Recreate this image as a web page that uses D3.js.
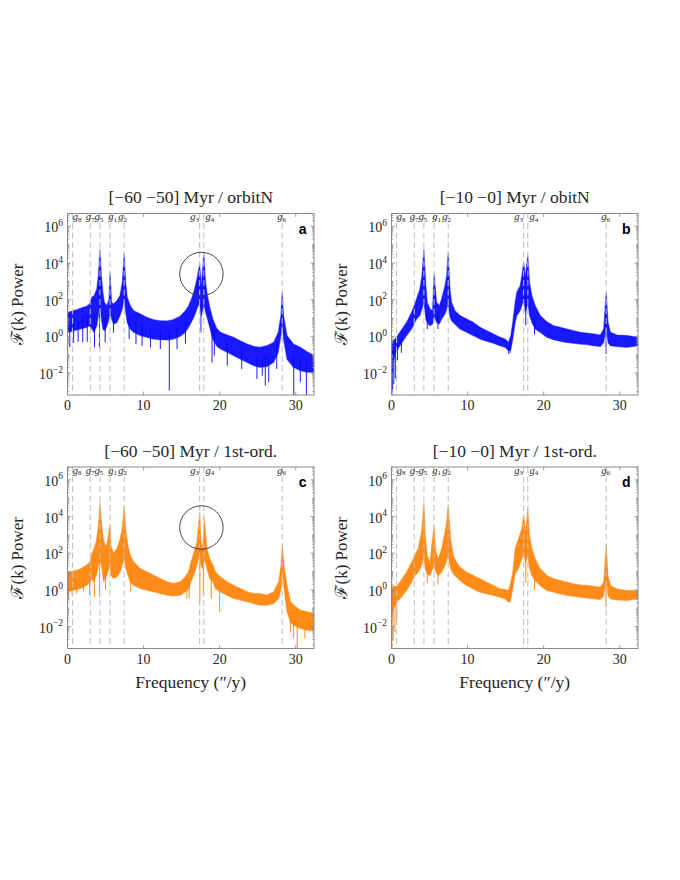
<!DOCTYPE html>
<html>
<head>
<meta charset="utf-8">
<script src="https://cdn.jsdelivr.net/npm/d3@7"></script>
<style>
  body { margin: 0; background: #fff; }
  svg { display: block; }
</style>
</head>
<body>
<svg id="chart" width="680" height="880"></svg>
<script>
// secular frequencies marked in every panel ("/y)
var gNames = ["8", "7", "5", "1", "2", "3", "4", "6"];
var gFreqs = [0.67, 2.99, 4.26, 5.59, 7.45, 17.37, 17.92, 28.22];

var xTicks = [0, 10, 20, 30];
var yTickExps = [-2, 0, 2, 4, 6];

var titles = ["[\u221260 \u221250] Myr / orbitN", "[\u221210 \u22120] Myr / obitN",
              "[\u221260 \u221250] Myr / 1st-ord.", "[\u221210 \u22120] Myr / 1st-ord."];
var letters = ["a", "b", "c", "d"];

// spectra: band top / band bottom as log10(power),
// plus the deep single-bin dips as [freq, log10(power)]

// panel a
var freqA = [0, 0.4, 0.8, 1.2, 1.7, 2.1, 2.5, 2.9, 3.2, 3.5, 3.85, 4.05, 4.26, 4.45, 4.65, 4.85,
  5.2, 5.45, 5.59, 5.8, 6.05, 6.5, 6.9, 7.2, 7.45, 7.65, 7.85, 8.25, 8.7, 9.6, 10.4, 11.3,
  12.2, 13.1, 13.9, 14.8, 15.5, 15.9, 16.25, 16.6, 16.85, 17.1, 17.37, 17.6, 17.92, 18.15, 18.4, 18.75,
  19.1, 19.6, 20.1, 21.0, 21.8, 22.7, 23.6, 24.5, 25.3, 26.2, 27.1, 27.7, 28.05, 28.22, 28.4, 28.85,
  29.7, 30.6, 31.5, 32.4];
var upperA = [1.31, 1.35, 1.4, 1.45, 1.53, 1.58, 1.64, 1.76, 2.13, 2.22, 2.58, 3.31, 4.73, 3.31, 2.4, 1.85,
  1.67, 2.04, 3.49, 1.85, 1.76, 1.95, 2.22, 2.95, 4.53, 2.95, 2.13, 1.67, 1.4, 1.22, 1.04, 0.91,
  0.85, 0.84, 0.91, 1.09, 1.4, 1.64, 2.0, 2.4, 2.85, 3.31, 3.95, 2.76, 4.51, 2.95, 2.22, 1.49,
  0.95, 0.44, 0.22, 0.07, -0.05, -0.24, -0.42, -0.55, -0.6, -0.51, -0.33, 0.22, 1.13, 2.4, 1.13, 0.04,
  -0.42, -0.6, -0.84, -1.05];
var lowerA = [0.22, 0.25, 0.3, 0.35, 0.4, 0.44, 0.49, 0.58, 0.4, 0.22, 0.58, 1.13, 1.85, 0.95, 0.4, 0.31,
  0.58, 0.95, 1.31, 0.95, 0.67, 0.76, 1.13, 1.49, 2.04, 1.31, 0.76, 0.4, 0.22, 0.04, -0.05, -0.15,
  -0.18, -0.2, -0.15, 0.0, 0.22, 0.49, 0.76, 1.04, 1.31, 1.58, 1.85, 1.13, 1.76, 1.31, 0.95, 0.4,
  -0.15, -0.51, -0.69, -0.87, -1.05, -1.24, -1.42, -1.6, -1.69, -1.64, -1.42, -0.87, 0.04, 0.76, -0.15, -1.24,
  -1.69, -1.87, -1.96, -1.96];
var dipsA = [[0.3, -0.6], [0.8, -0.35], [1.4, -0.3], [2.0, -0.33], [2.6, -0.3], [3.55, -0.6], [4.2, -0.6],
  [4.95, -0.33], [6.05, 0.2], [8.1, -0.15], [9.0, -0.42], [9.8, -0.51], [10.9, -0.6], [12.2, -0.69],
  [13.38, -2.96], [14.4, -0.69], [15.5, -0.4], [17.54, 0.22], [19.0, -1.42], [19.3, -1.05], [21.0, -1.6],
  [22.9, -1.78], [24.9, -2.33], [25.6, -2.15], [26.0, -2.69], [26.45, -2.5], [27.5, -1.78], [29.74, -3.3],
  [30.6, -2.5], [31.4, -3.3]];

// panel b
var freqB = [0, 0.22, 0.44, 0.66, 1.1, 1.98, 2.64, 3.07, 3.29, 3.73, 4.0, 4.26, 4.52, 4.7, 5.05, 5.4,
  5.59, 5.93, 6.28, 6.59, 7.03, 7.25, 7.45, 7.69, 7.9, 8.34, 9.0, 9.88, 10.76, 11.64, 12.52, 13.4,
  14.27, 14.93, 15.37, 15.68, 15.94, 16.25, 16.47, 16.91, 17.13, 17.37, 17.61, 17.92, 18.14, 18.45, 18.89, 19.54,
  20.42, 21.3, 22.18, 23.06, 23.94, 24.81, 25.69, 26.57, 27.45, 27.89, 28.22, 28.46, 28.77, 29.64, 30.96, 32.4];
var upperB = [-0.51, -0.24, -0.15, -0.05, 0.22, 0.76, 1.31, 1.76, 2.04, 2.58, 3.31, 4.73, 2.76, 1.85, 1.49, 1.4,
  3.4, 1.85, 1.67, 2.04, 2.76, 3.31, 4.58, 2.58, 1.85, 1.4, 1.13, 0.95, 0.76, 0.49, 0.31, 0.13,
  -0.05, -0.15, -0.33, 0.04, 0.76, 1.85, 2.4, 2.76, 3.31, 4.04, 3.31, 4.4, 2.95, 2.22, 1.67, 1.13,
  0.8, 0.58, 0.49, 0.4, 0.31, 0.22, 0.18, 0.13, 0.07, 0.4, 2.4, 0.76, 0.22, 0.07, 0.04, -0.05];
var lowerB = [-1.0, -1.42, -1.05, -0.78, -0.51, 0.04, 0.4, 0.76, 0.95, 1.13, 1.49, 1.85, 0.95, 0.76, 0.58, 0.67,
  1.13, 0.76, 0.67, 0.95, 1.22, 1.49, 1.85, 1.04, 0.85, 0.67, 0.4, 0.22, 0.04, -0.15, -0.27, -0.38,
  -0.51, -0.6, -0.78, -0.73, -0.15, 0.76, 1.13, 1.4, 1.67, 2.04, 1.31, 1.85, 1.13, 0.76, 0.4, 0.22,
  -0.05, -0.18, -0.27, -0.33, -0.38, -0.42, -0.45, -0.51, -0.55, -0.33, 0.58, -0.33, -0.51, -0.56, -0.6, -0.51];
var dipsB = [[0.05, -3.3], [0.15, -2.9], [0.3, -2.6], [0.5, -2.3], [0.8, -1.3], [1.3, -0.9], [4.7, 0.4],
  [6.1, 0.4], [15.4, -0.95], [15.6, -0.9], [17.65, 0.6], [18.8, 0.1], [28.2, -0.96]];

// panel c
var freqC = [0, 0.79, 1.67, 2.54, 2.98, 3.2, 3.42, 3.77, 4.08, 4.26, 4.52, 4.74, 4.96, 5.18, 5.59, 5.7,
  6.05, 6.49, 6.93, 7.19, 7.45, 7.68, 7.94, 8.25, 8.68, 9.56, 10.44, 11.32, 12.19, 13.07, 13.95, 14.82,
  15.48, 15.92, 16.23, 16.58, 17.02, 17.37, 17.54, 17.76, 18.0, 18.33, 18.68, 19.12, 19.43, 20.09, 20.96, 21.84,
  22.72, 23.6, 24.47, 25.35, 26.23, 27.11, 27.76, 28.07, 28.22, 28.51, 28.86, 29.3, 29.74, 30.61, 31.49, 32.4];
var upperC = [0.98, 1.02, 1.13, 1.35, 1.53, 1.98, 2.16, 2.62, 3.53, 4.76, 3.44, 2.71, 2.44, 2.44, 3.53, 2.44,
  1.98, 2.25, 2.8, 3.35, 4.53, 3.16, 2.44, 1.89, 1.53, 1.16, 0.98, 0.8, 0.62, 0.44, 0.35, 0.44,
  0.71, 0.98, 1.53, 1.98, 2.62, 4.22, 2.62, 2.25, 3.89, 2.25, 1.71, 1.35, 0.98, 0.71, 0.44, 0.25,
  0.07, -0.11, -0.2, -0.2, -0.29, -0.11, 0.44, 1.35, 2.44, 1.16, 0.25, -0.65, -0.84, -1.11, -1.2, -1.29];
var lowerC = [-0.11, -0.02, 0.07, 0.25, 0.44, 0.62, 0.44, 0.8, 1.35, 1.71, 1.16, 0.44, 0.62, 0.8, 1.35, 0.8,
  0.62, 0.71, 0.98, 1.35, 1.71, 1.16, 0.8, 0.44, 0.25, 0.07, -0.02, -0.11, -0.2, -0.29, -0.33, -0.29,
  -0.11, 0.07, 0.44, 0.8, 1.35, 2.07, 1.35, 1.16, 1.71, 1.16, 0.62, 0.44, 0.07, -0.11, -0.29, -0.47,
  -0.56, -0.65, -0.75, -0.84, -0.84, -0.75, -0.47, 0.07, 0.98, -0.11, -1.2, -1.75, -1.93, -2.11, -2.2, -2.2];
var dipsC = [[0.15, -0.6], [0.6, -0.3], [1.2, -0.2], [2.1, -0.1], [2.9, -0.3], [3.55, -0.38], [4.2, -0.38],
  [5.0, 0.0], [8.3, -0.1], [15.7, -0.47], [16.0, -0.47], [17.4, -0.7], [17.85, -0.3], [18.9, -0.47],
  [20.0, -1.2], [29.3, -2.3], [29.7, -2.65], [30.2, -3.3], [31.2, -2.65], [31.9, -2.3]];

// panel d
var freqD = [0, 0.22, 0.66, 1.1, 1.98, 2.64, 3.07, 3.51, 3.95, 4.13, 4.26, 4.44, 4.7, 5.05, 5.59, 5.84,
  6.15, 6.59, 7.03, 7.25, 7.45, 7.77, 8.12, 8.56, 9.0, 9.88, 10.76, 11.64, 12.52, 13.4, 14.27, 14.93,
  15.37, 15.68, 15.94, 16.25, 16.69, 17.13, 17.37, 17.61, 17.92, 18.14, 18.45, 18.89, 19.54, 20.42, 21.3, 22.18,
  23.06, 23.94, 24.81, 25.69, 26.57, 27.45, 27.89, 28.22, 28.46, 28.77, 29.64, 30.96, 32.4];
var upperD = [0.05, 0.24, 0.15, 0.42, 0.96, 1.51, 1.87, 2.24, 3.15, 4.05, 4.75, 2.96, 1.87, 1.51, 3.51, 2.05,
  1.69, 2.24, 3.15, 3.69, 4.64, 2.78, 1.87, 1.51, 1.24, 0.96, 0.78, 0.6, 0.42, 0.24, 0.05, 0.02,
  -0.04, 0.42, 0.96, 2.24, 2.78, 3.33, 4.05, 3.15, 4.42, 2.96, 2.24, 1.69, 1.15, 0.78, 0.6, 0.51,
  0.42, 0.33, 0.27, 0.24, 0.2, 0.15, 0.42, 2.45, 0.78, 0.24, 0.05, -0.04, -0.04];
var lowerD = [-1.22, -1.04, -0.67, -0.49, -0.04, 0.42, 0.78, 0.96, 1.33, 1.6, 1.87, 1.15, 0.87, 0.78, 1.33, 0.96,
  0.78, 0.96, 1.33, 1.6, 1.87, 1.15, 0.87, 0.69, 0.51, 0.24, 0.05, -0.13, -0.22, -0.31, -0.4, -0.49,
  -0.67, -0.49, 0.05, 0.87, 1.15, 1.69, 2.05, 1.51, 1.87, 1.15, 0.78, 0.51, 0.24, -0.04, -0.13, -0.22,
  -0.31, -0.35, -0.4, -0.45, -0.49, -0.53, -0.31, 0.6, -0.31, -0.49, -0.55, -0.58, -0.49];
var dipsD = [[0.05, -3.3], [0.2, -2.8], [0.45, -2.3], [0.7, -1.6], [4.7, 0.36], [6.1, 0.3], [15.4, -0.67],
  [15.6, -0.7], [17.65, 0.4], [18.8, 0.0], [28.2, -0.95]];

// circled g3/g4 pair in the left column
var circleFreq = 17.6, circleExp = 3.4;

var xDomain = [0, 32.4];
var yDomain = [Math.pow(10, -3.2), Math.pow(10, 6.7)];

var blue = "#0000ff", orange = "#ff8000";

var panels = [
  {freq: freqA, upper: upperA, lower: lowerA, dips: dipsA, color: blue, col: 0, row: 0, circle: true},
  {freq: freqB, upper: upperB, lower: lowerB, dips: dipsB, color: blue, col: 1, row: 0, circle: false},
  {freq: freqC, upper: upperC, lower: lowerC, dips: dipsC, color: orange, col: 0, row: 1, circle: true},
  {freq: freqD, upper: upperD, lower: lowerD, dips: dipsD, color: orange, col: 1, row: 1, circle: false}
];

// layout
var colX = [67.5, 391.5], rowY = [213.5, 467], width = 246.5, height = 181.5;
var serif = "'Liberation Serif', 'Times New Roman', serif";
var axisColor = "#8a8a8a", textColor = "#262626";

var svg = d3.select("#chart");
svg.append("rect").attr("width", 680).attr("height", 880).attr("fill", "#fff");

var x = d3.scaleLinear().domain(xDomain).range([0, width]);
var y = d3.scaleLog().domain(yDomain).range([height, 0]);

// label nudges so neighbouring g labels don't collide
var gLabelShift = {"8": 4.5, "7": 0, "5": -1, "1": 2.5, "2": -1.5, "3": -5, "4": 6, "6": -0.5};

panels.forEach(function (p, k) {
  var g = svg.append("g")
    .attr("transform", "translate(" + colX[p.col] + "," + rowY[p.row] + ")");

  var clipId = "clip" + k;
  g.append("clipPath").attr("id", clipId)
    .append("rect").attr("width", width).attr("height", height);

  var plot = g.append("g").attr("clip-path", "url(#" + clipId + ")");
  var idx = d3.range(p.freq.length);

  // the spectrum band
  var band = d3.area()
    .x(function (i) { return x(p.freq[i]); })
    .y0(function (i) { return y(Math.pow(10, p.lower[i])); })
    .y1(function (i) { return y(Math.pow(10, p.upper[i])); });

  plot.append("path")
    .datum(idx)
    .attr("d", band)
    .attr("fill", p.color)
    .attr("fill-opacity", 0.9)
    .attr("stroke", p.color)
    .attr("stroke-width", 1.2)
    .attr("stroke-opacity", 0.45)
    .attr("stroke-linejoin", "round");

  // deep dips
  var near = d3.bisector(function (d) { return d; }).center;
  plot.selectAll("line.dip")
    .data(p.dips)
    .join("line")
    .attr("class", "dip")
    .attr("x1", function (d) { return x(d[0]); })
    .attr("x2", function (d) { return x(d[0]); })
    .attr("y1", function (d) {
      var i = near(p.freq, d[0]);
      return y(Math.pow(10, (p.upper[i] + p.lower[i]) / 2));
    })
    .attr("y2", function (d) { return y(Math.pow(10, d[1])); })
    .attr("stroke", p.color)
    .attr("stroke-width", 0.9);

  // secular frequency markers
  plot.selectAll("line.gline")
    .data(gFreqs)
    .join("line")
    .attr("class", "gline")
    .attr("x1", function (d) { return x(d); })
    .attr("x2", function (d) { return x(d); })
    .attr("y1", 0)
    .attr("y2", height)
    .attr("stroke", "#bdbdbd")
    .attr("stroke-width", 1)
    .attr("stroke-dasharray", "6,3.5");

  var gl = g.selectAll("text.glab")
    .data(gNames)
    .join("text")
    .attr("class", "glab")
    .attr("x", function (d, i) { return x(gFreqs[i]) + gLabelShift[d]; })
    .attr("y", 6.5)
    .attr("text-anchor", "middle")
    .attr("font-family", serif)
    .attr("fill", textColor);
  gl.append("tspan").attr("font-size", 10.5).attr("font-style", "italic").text("g");
  gl.append("tspan").attr("font-size", 7).attr("dy", 1.8).text(function (d) { return d; });

  if (p.circle) {
    g.append("circle")
      .attr("cx", x(circleFreq))
      .attr("cy", y(Math.pow(10, circleExp)))
      .attr("r", 21.7)
      .attr("fill", "none")
      .attr("stroke", "#333")
      .attr("stroke-width", 0.9);
  }

  // box and ticks (inside, MATLAB style)
  g.append("rect")
    .attr("width", width).attr("height", height)
    .attr("fill", "none").attr("stroke", axisColor).attr("stroke-width", 1);

  var ticks = g.append("g").attr("stroke", axisColor).attr("stroke-width", 0.8);
  xTicks.forEach(function (t) {
    ticks.append("line").attr("x1", x(t)).attr("x2", x(t)).attr("y1", height).attr("y2", height - 3.5);
    ticks.append("line").attr("x1", x(t)).attr("x2", x(t)).attr("y1", 0).attr("y2", 3.5);
  });
  d3.range(-3, 7).forEach(function (e) {
    d3.range(1, 10).forEach(function (m) {
      var v = m * Math.pow(10, e);
      if (v < yDomain[0] || v > yDomain[1]) return;
      var len = (m === 1 && e % 2 === 0) ? 3.5 : 1.8;
      ticks.append("line").attr("x1", 0).attr("x2", len).attr("y1", y(v)).attr("y2", y(v));
      ticks.append("line").attr("x1", width).attr("x2", width - len).attr("y1", y(v)).attr("y2", y(v));
    });
  });

  // tick labels
  g.selectAll("text.xt")
    .data(xTicks)
    .join("text")
    .attr("class", "xt")
    .attr("x", function (d) { return x(d); })
    .attr("y", height + 15)
    .attr("text-anchor", "middle")
    .attr("font-family", serif)
    .attr("font-size", 14)
    .attr("fill", textColor)
    .text(function (d) { return d; });

  var yt = g.selectAll("text.yt")
    .data(yTickExps)
    .join("text")
    .attr("class", "yt")
    .attr("x", -4.5)
    .attr("y", function (d) { return y(Math.pow(10, d)) + 6; })
    .attr("text-anchor", "end")
    .attr("font-family", serif)
    .attr("fill", textColor);
  yt.append("tspan").attr("font-size", 14).text("10");
  yt.append("tspan").attr("font-size", 9.5).attr("dy", -6.5)
    .text(function (d) { return d < 0 ? "\u2212" + (-d) : d; });

  // titles and labels
  g.append("text")
    .attr("x", width / 2)
    .attr("y", -10.5)
    .attr("text-anchor", "middle")
    .attr("font-family", serif)
    .attr("font-size", 17.5)
    .attr("fill", textColor)
    .text(titles[k]);

  g.append("text")
    .attr("transform", "translate(-45," + (height / 2) + ") rotate(-90)")
    .attr("text-anchor", "middle")
    .attr("font-family", serif)
    .attr("font-size", 17)
    .attr("fill", textColor)
    .text("\u2131(k) Power");

  if (p.row === 1) {
    g.append("text")
      .attr("x", width / 2)
      .attr("y", height + 39.5)
      .attr("text-anchor", "middle")
      .attr("font-family", serif)
      .attr("font-size", 17.5)
      .attr("fill", textColor)
      .text("Frequency (\u2033/y)");
  }

  g.append("text")
    .attr("x", width - 7.5)
    .attr("y", 20)
    .attr("text-anchor", "end")
    .attr("font-family", "'Liberation Sans', Arial, sans-serif")
    .attr("font-weight", "bold")
    .attr("font-size", 14)
    .attr("fill", "#000")
    .text(letters[k]);
});
</script>
</body>
</html>
